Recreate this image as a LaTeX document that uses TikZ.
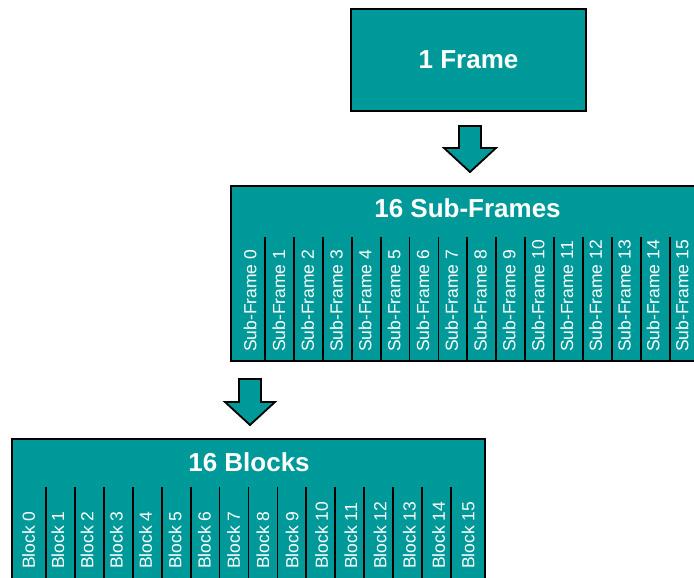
\documentclass[tikz,border=0pt]{standalone}
\usepackage{fontspec}
\setmainfont{Liberation Sans}
\usepackage{tikz}
\usepackage{xcolor}
\definecolor{boxteal}{RGB}{0,153,153}

\begin{document}
\begin{tikzpicture}[x=1pt, y=-1pt,
    box/.style={draw=black, line width=2.5pt, fill=boxteal, inner sep=0pt, outer sep=0pt},
    title/.style={text=white, font=\fontsize{26}{30}\selectfont\bfseries},
    part/.style={text=white, font=\fontsize{17.5}{20}\selectfont, rotate=90, anchor=west, inner sep=0pt},
    divider/.style={line width=1.8pt, black},
    downarrow/.style={draw=black, line width=1.8pt, fill=boxteal, line join=miter}]
    \useasboundingbox (0,0) rectangle (694,578);

    % Frame
    \node[box, minimum width=235pt, minimum height=102pt] (frame) at (468.5,60) {};
    \node[title] (frametitle) at (frame.center) {1 Frame};

    % Arrow down to the sub-frames
    \coordinate (arrowA) at (470,126);
    \draw[downarrow] (arrowA) +(-11,0) -- +(11,0) -- +(11,22) -- +(26,22) -- +(0,46) -- +(-26,22) -- +(-11,22) -- cycle;

    % Sub-frames
    \node[box, minimum width=474pt, minimum height=175pt] (subframes) at (468,273.5) {};
    \node[title] (subtitle) at (467.5,208) {16 Sub-Frames};
    \foreach \i in {0,...,14}
        \draw[divider] ({265+28.9*\i},237) -- ({265+28.9*\i},361);
    \foreach \i in {0,...,15}
        \node[part] (sf\i) at ({250+28.8*\i},352) {Sub-Frame \i};

    % Arrow down to the blocks
    \coordinate (arrowB) at (250,379);
    \draw[downarrow] (arrowB) +(-11,0) -- +(11,0) -- +(11,23) -- +(25,23) -- +(0,46) -- +(-25,23) -- +(-11,23) -- cycle;

    % Blocks
    \node[box, minimum width=473pt, minimum height=171pt] (blocks) at (248.5,524.5) {};
    \node[title] (blocktitle) at (249,462) {16 Blocks};
    \foreach \i in {0,...,14}
        \draw[divider] ({46+28.93*\i},487) -- ({46+28.93*\i},610);
    \foreach \i in {0,...,15}
        \node[part] (bl\i) at ({28.5+29.3*\i},569) {Block \i};

\end{tikzpicture}
\end{document}
